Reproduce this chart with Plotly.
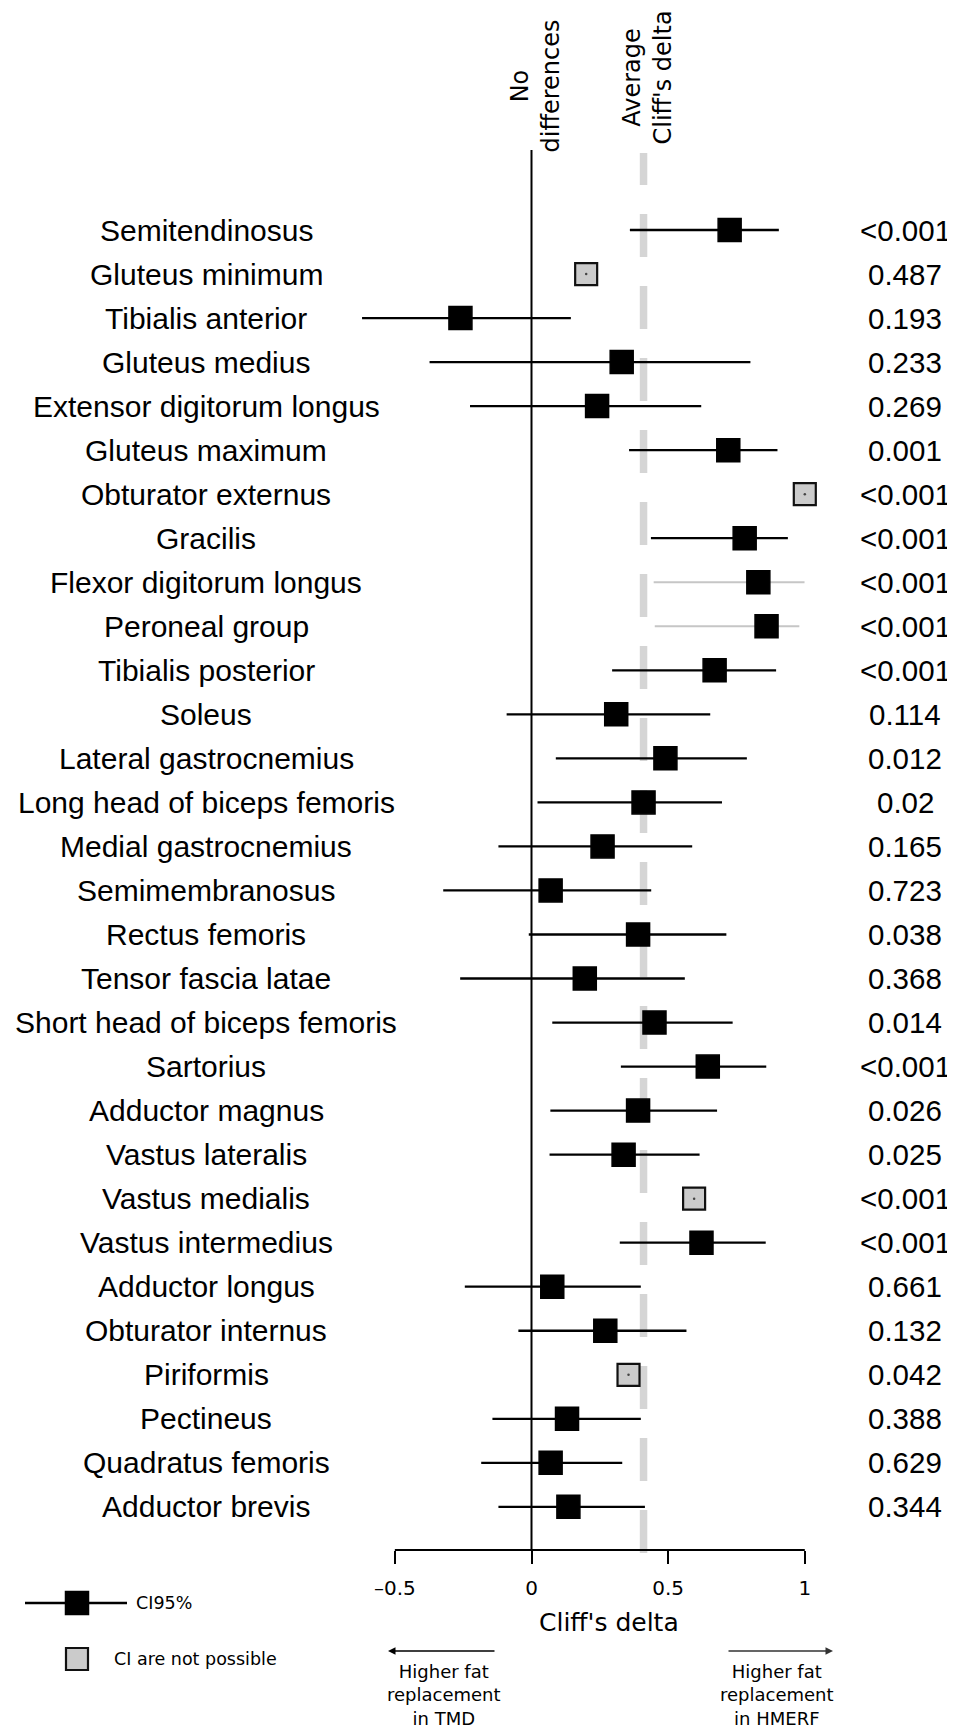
import plotly.graph_objects as go

# ---------------- data ----------------
muscles = ["Semitendinosus", "Gluteus minimum", "Tibialis anterior", "Gluteus medius",
           "Extensor digitorum longus", "Gluteus maximum", "Obturator externus", "Gracilis",
           "Flexor digitorum longus", "Peroneal group", "Tibialis posterior", "Soleus",
           "Lateral gastrocnemius", "Long head of biceps femoris", "Medial gastrocnemius",
           "Semimembranosus", "Rectus femoris", "Tensor fascia latae",
           "Short head of biceps femoris", "Sartorius", "Adductor magnus", "Vastus lateralis",
           "Vastus medialis", "Vastus intermedius", "Adductor longus", "Obturator internus",
           "Piriformis", "Pectineus", "Quadratus femoris", "Adductor brevis"]
delta = [0.725, 0.20, -0.26, 0.33, 0.24, 0.72, 1.00, 0.78, 0.83, 0.86, 0.67, 0.31,
         0.49, 0.41, 0.26, 0.07, 0.39, 0.195, 0.45, 0.645, 0.39, 0.337,
         0.595, 0.622, 0.076, 0.27, 0.355, 0.13, 0.07, 0.135]
ci_low = [0.36, None, -0.62, -0.373, -0.225, 0.357, None, 0.437, 0.447, 0.451, 0.295, -0.091,
          0.089, 0.022, -0.121, -0.323, -0.01, -0.261, 0.076, 0.327, 0.069, 0.066,
          None, 0.323, -0.244, -0.048, None, -0.143, -0.184, -0.121]
ci_high = [0.905, None, 0.144, 0.801, 0.621, 0.90, None, 0.938, 0.999, 0.98, 0.895, 0.654,
           0.788, 0.697, 0.588, 0.438, 0.713, 0.561, 0.736, 0.859, 0.679, 0.615,
           None, 0.857, 0.40, 0.567, None, 0.40, 0.332, 0.415]
ci_faint = [False, False, False, False, False, False, False, False, True, True, False, False,
            False, False, False, False, False, False, False, False, False, False,
            False, False, False, False, False, False, False, False]
p_values = ["<0.001", "0.487", "0.193", "0.233", "0.269", "0.001", "<0.001", "<0.001",
            "<0.001", "<0.001", "<0.001", "0.114", "0.012", "0.02", "0.165", "0.723",
            "0.038", "0.368", "0.014", "<0.001", "0.026", "0.025", "<0.001", "<0.001",
            "0.661", "0.132", "0.042", "0.388", "0.629", "0.344"]
avg_delta = 0.41
tick_vals = [-0.5, 0, 0.5, 1]
tick_text = ["\u20130.5", "0", "0.5", "1"]

# ---------------- layout geometry (page pixels) ----------------
PAGE_W, PAGE_H = 955, 1731
OFF = 8                      # default body margin of the html page
W, H = PAGE_W - OFF, PAGE_H - OFF
X_ZERO_PX = 531.5
PX_PER_UNIT = 273.3
ROW1_PX = 230.0
ROW_STEP = 44.03
AXIS_PX = 1550.0


def xd(px):
    return (px - X_ZERO_PX) / PX_PER_UNIT


def yd(px):
    return 1 + (px - ROW1_PX) / ROW_STEP


rows = list(range(1, len(muscles) + 1))

fig = go.Figure()

# CI lines
for faint, color, width in [(False, "black", 2.3), (True, "#c6c6c6", 2.0)]:
    xs, ys = [], []
    for r, lo, hi, f in zip(rows, ci_low, ci_high, ci_faint):
        if lo is None or f != faint:
            continue
        xs += [lo, hi, None]
        ys += [r, r, None]
    fig.add_trace(go.Scatter(x=xs, y=ys, mode="lines",
                             line=dict(color=color, width=width),
                             hoverinfo="skip", showlegend=False))

# squares with CI
fig.add_trace(go.Scatter(
    x=[d for d, lo in zip(delta, ci_low) if lo is not None],
    y=[r for r, lo in zip(rows, ci_low) if lo is not None],
    mode="markers",
    marker=dict(symbol="square", size=23, color="black", line=dict(color="black", width=1.5)),
    showlegend=False))

# squares without CI
nx = [d for d, lo in zip(delta, ci_low) if lo is None]
ny = [r for r, lo in zip(rows, ci_low) if lo is None]
fig.add_trace(go.Scatter(
    x=nx, y=ny, mode="markers",
    marker=dict(symbol="square", size=22, color="#cbcbcb", line=dict(color="#111111", width=2.2)),
    showlegend=False))
fig.add_trace(go.Scatter(x=nx, y=ny, mode="markers",
                         marker=dict(size=2.5, color="#444444"), showlegend=False))

# legend keys (drawn manually)
fig.add_trace(go.Scatter(x=[xd(25), xd(127)], y=[yd(1603), yd(1603)], mode="lines",
                         line=dict(color="black", width=2.3), showlegend=False))
fig.add_trace(go.Scatter(x=[xd(77)], y=[yd(1603)], mode="markers",
                         marker=dict(symbol="square", size=23, color="black",
                                     line=dict(color="black", width=1.5)), showlegend=False))
fig.add_trace(go.Scatter(x=[xd(77)], y=[yd(1659)], mode="markers",
                         marker=dict(symbol="square", size=22, color="#cbcbcb",
                                     line=dict(color="#111111", width=2.2)), showlegend=False))

# reference lines
fig.add_shape(type="line", x0=avg_delta, x1=avg_delta, y0=yd(1553), y1=yd(153),
              line=dict(color="#d5d5d5", width=7.5, dash="43px,29px"), layer="below")
fig.add_shape(type="line", x0=0, x1=0, y0=yd(150), y1=yd(AXIS_PX),
              line=dict(color="black", width=2), layer="below")
fig.add_shape(type="line", x0=tick_vals[0], x1=tick_vals[-1], y0=yd(AXIS_PX), y1=yd(AXIS_PX),
              line=dict(color="black", width=2))

ann = []
lab_font = dict(family="Liberation Sans, Arial, sans-serif", size=30, color="black")
p_font = dict(family="Liberation Sans, Arial, sans-serif", size=29.5, color="black")
for r, name, p in zip(rows, muscles, p_values):
    ann.append(dict(x=xd(206), xref="x", y=r, yref="y", text=name, showarrow=False,
                    xanchor="center", yanchor="middle", font=lab_font))
    ann.append(dict(x=xd(905), xref="x", y=r, yref="y", text=p, showarrow=False,
                    xanchor="center", yanchor="middle", font=p_font))

dv = "DejaVu Sans, Verdana, sans-serif"
ann.append(dict(x=0, xref="x", y=yd(86), yref="y", text="No<br>differences", textangle=-90,
                showarrow=False, xanchor="center", yanchor="middle", xshift=3,
                font=dict(family=dv, size=24, color="black")))
ann.append(dict(x=avg_delta, xref="x", y=yd(78), yref="y", text="Average<br>Cliff's delta",
                textangle=-90, showarrow=False, xanchor="center", yanchor="middle", xshift=3,
                font=dict(family=dv, size=24, color="black")))
ann.append(dict(x=xd(609), xref="x", y=yd(1622), yref="y", text="Cliff's delta",
                showarrow=False, xanchor="center", yanchor="middle",
                font=dict(family=dv, size=25, color="black")))
ann.append(dict(x=xd(134), xref="x", y=yd(1603), yref="y", text="CI95%",
                showarrow=False, xanchor="left", yanchor="middle",
                font=dict(family=dv, size=17.5, color="black")))
ann.append(dict(x=xd(112), xref="x", y=yd(1659), yref="y", text="CI are not possible",
                showarrow=False, xanchor="left", yanchor="middle",
                font=dict(family=dv, size=17.5, color="black")))
ann.append(dict(x=xd(444), xref="x", y=yd(1695), yref="y",
                text="Higher fat<br>replacement<br>in TMD",
                showarrow=False, xanchor="center", yanchor="middle",
                font=dict(family=dv, size=18, color="black")))
ann.append(dict(x=xd(777), xref="x", y=yd(1695), yref="y",
                text="Higher fat<br>replacement<br>in HMERF",
                showarrow=False, xanchor="center", yanchor="middle",
                font=dict(family=dv, size=18, color="black")))
# arrows
ann.append(dict(x=xd(388), xref="x", y=yd(1651), yref="y", ax=xd(496), axref="x",
                ay=yd(1651), ayref="y", text="", showarrow=True, arrowhead=2,
                arrowsize=1, arrowwidth=1.5, arrowcolor="black"))
ann.append(dict(x=xd(833), xref="x", y=yd(1651), yref="y", ax=xd(727), axref="x",
                ay=yd(1651), ayref="y", text="", showarrow=True, arrowhead=2,
                arrowsize=1, arrowwidth=1.5, arrowcolor="#333333"))

fig.update_layout(
    width=W, height=H,
    margin=dict(l=0, r=0, t=0, b=0),
    paper_bgcolor="white", plot_bgcolor="white",
    showlegend=False,
    annotations=ann,
    xaxis=dict(range=[xd(OFF), xd(PAGE_W)], showgrid=False, zeroline=False, showline=False,
               anchor="free", position=(PAGE_H - AXIS_PX) / H,
               tickmode="array", tickvals=tick_vals, ticktext=tick_text,
               ticks="outside", ticklen=13, tickwidth=2, tickcolor="black",
               ticklabelstandoff=7,
               tickfont=dict(family=dv, size=20, color="black"), fixedrange=True),
    yaxis=dict(range=[yd(PAGE_H), yd(OFF)], visible=False, showgrid=False, zeroline=False,
               fixedrange=True),
)

fig.write_html("out.html")
